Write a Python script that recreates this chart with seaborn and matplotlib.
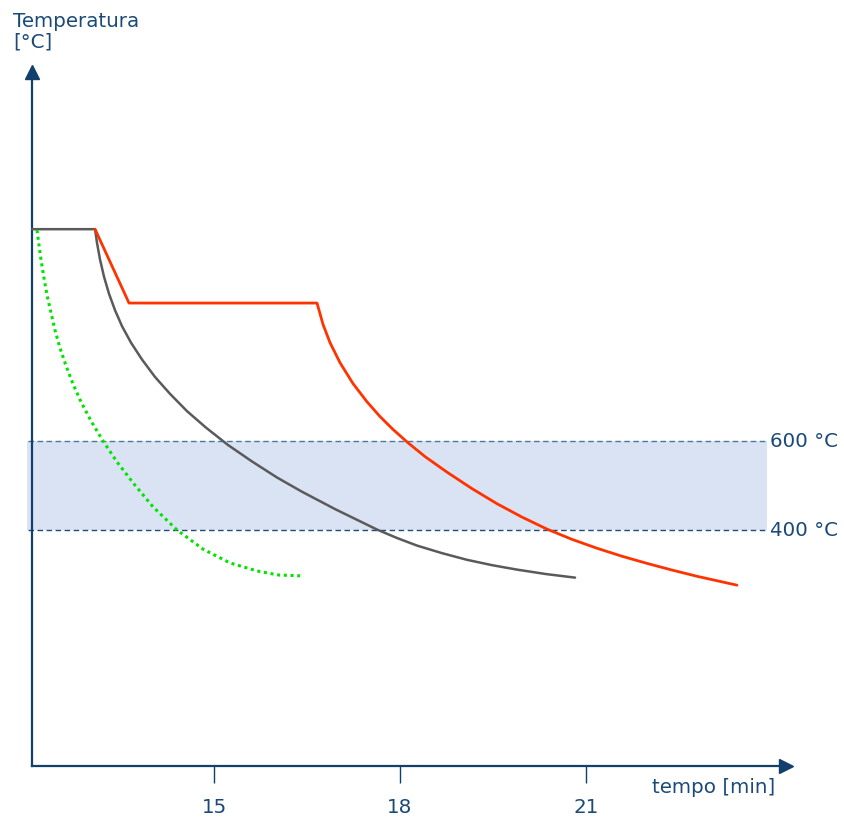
import pandas as pd
import matplotlib
matplotlib.use("Agg")
import matplotlib.pyplot as plt
import seaborn as sns

# curve values (time in min, temperature in °C)
red_t = [13.081, 13.629, 16.661, 16.758, 16.871, 17.032, 17.242, 17.468, 17.677,
         17.887, 18.129, 18.403, 18.758, 19.161, 19.565, 19.968, 20.371, 20.774,
         21.177, 21.581, 21.984, 22.387, 22.790, 23.435]
red_T = [1076, 910, 910, 862, 821, 776, 729, 688, 655, 626, 596, 565, 530, 493,
         459, 429, 402, 379, 359, 341, 325, 310, 296, 276]

black_t = [12.065, 13.081, 13.113, 13.161, 13.226, 13.306, 13.403, 13.516, 13.661,
           13.839, 14.048, 14.290, 14.565, 14.871, 15.226, 15.613, 16.016, 16.419,
           16.952, 17.629, 17.952, 18.274, 18.677, 19.081, 19.484, 19.887, 20.355,
           20.823]
black_T = [1076, 1076, 1045, 1008, 969, 931, 894, 858, 821, 783, 744, 706, 667, 630,
           591, 554, 518, 486, 447, 401, 382, 365, 348, 333, 321, 311, 301, 293]

green_t = [12.145, 12.177, 12.210, 12.258, 12.306, 12.371, 12.435, 12.516, 12.613,
           12.726, 12.855, 13.016, 13.210, 13.435, 13.694, 14.016, 14.403, 14.823,
           15.258, 15.694, 16.032, 16.387]
green_T = [1074, 1040, 1007, 966, 928, 888, 849, 809, 769, 728, 688, 645, 600, 553,
           506, 452, 400, 357, 326, 308, 299, 297]

band_low, band_high = 400, 600
xticks = [15, 18, 21]

axis_col = "#123f6c"
text_col = "#1b4a78"

sns.set_style("white")
plt.rcParams["font.family"] = ["DejaVu Sans"]

fig = plt.figure(figsize=(8.44, 8.21), dpi=100)
ax = fig.add_axes([0, 0, 1, 1])

# axis origin / extents
x0, y0 = 12.065, -130
x_end, y_end = 24.15, 1422

# band 400-600
ax.fill_between([11.99, 23.92], band_low, band_high, color="#dae3f3", lw=0, zorder=1)
ax.plot([12.0, 23.92], [band_high, band_high], lw=1.0, color="#4a77a3", dashes=(4, 2.5), zorder=2)
ax.plot([12.0, 23.92], [band_low, band_low], lw=1.0, color="#1f4d7a", dashes=(4, 2.5), zorder=2)
ax.text(23.97, band_high, "600 °C", fontsize=14.3, color=text_col, va="center", ha="left")
ax.text(23.97, band_low, "400 °C", fontsize=14.3, color=text_col, va="center", ha="left")

# curves
sns.lineplot(x=black_t, y=black_T, sort=False, estimator=None, color="#5a5a5a", lw=1.8, ax=ax, zorder=3)
sns.lineplot(x=red_t, y=red_T, sort=False, estimator=None, color="#ff3300", lw=2.0, ax=ax, zorder=4)
sns.lineplot(x=green_t, y=green_T, sort=False, estimator=None, color="#00e400", lw=2.2,
             ax=ax, zorder=4, linestyle=(0, (1, 1.2)))

# axes with arrows
ax.set_xlim(11.548, 25.161)
ax.set_ylim(-253.9, 1591)
for s in ["top", "right"]:
    ax.spines[s].set_visible(False)
ax.spines["left"].set_position(("data", x0))
ax.spines["bottom"].set_position(("data", y0))
ax.spines["left"].set_bounds(y0, y_end)
ax.spines["bottom"].set_bounds(x0, x_end)
for s in ["left", "bottom"]:
    ax.spines[s].set_color(axis_col)
    ax.spines[s].set_linewidth(1.6)
ax.plot(x0, 1430, marker="^", ms=10, color=axis_col, clip_on=False, zorder=5)
ax.plot(24.22, y0, marker=">", ms=10, color=axis_col, clip_on=False, zorder=5)

ax.set_yticks([])
ax.set_xticks(xticks)
ax.set_xticklabels([str(t) for t in xticks])
ax.tick_params(axis="x", bottom=True, direction="out", length=12, width=1.0, color=axis_col,
               pad=11, labelsize=14.3, labelcolor=text_col)
ax.set_xlabel("")
ax.set_ylabel("")

ax.text(24.05, -178, "tempo [min]", fontsize=14.3, color=text_col, ha="right", va="center")
ax.text(11.76, 1565, "Temperatura\n[°C]", fontsize=14.3, color=text_col, ha="left", va="top",
        linespacing=1.15)

fig.savefig("out.png", dpi=100)
